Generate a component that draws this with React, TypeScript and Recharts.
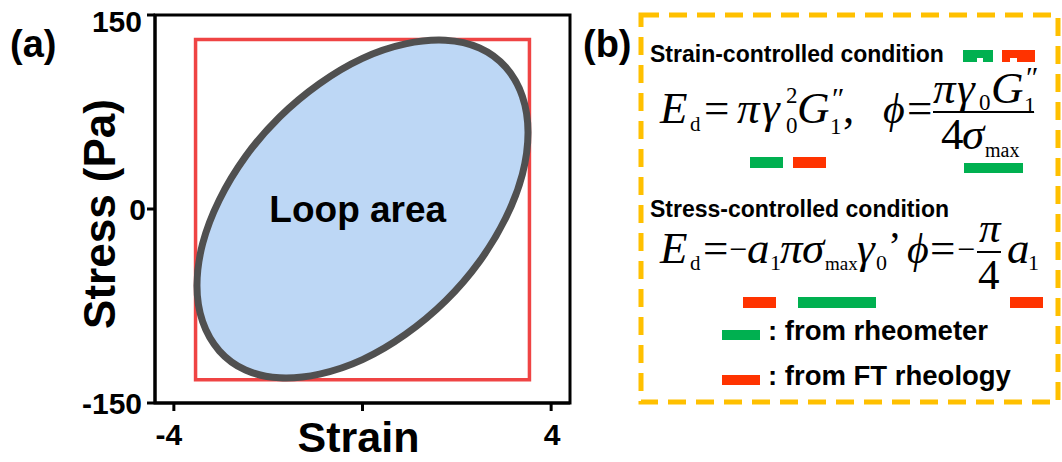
import React from 'react';
import {
  ScatterChart,
  Scatter,
  XAxis,
  YAxis,
  ReferenceArea,
  ReferenceDot,
  Curve,
} from 'recharts';

// axis ticks
const strainTicks = [-4, 0, 4];
const strainTickLabels = ['-4', '', '4'];
const stressTicks = [-150, 0, 150];
const stressTickLabels = ['-150', '0', '150'];

// Lissajous loop (strain, stress in Pa)
const loopStrain = [0, 0.92, 1.78, 2.51, 3.07, 3.43, 3.55, 3.43, 3.07, 2.51, 1.78, 0.92, 0, -0.92, -1.78, -2.51, -3.07, -3.43, -3.55, -3.43, -3.07, -2.51, -1.78, -0.92];
const loopStress = [118, 129, 132, 126, 111, 88, 60, 27, -7, -41, -72, -98, -118, -129, -132, -126, -111, -88, -60, -27, 7, 41, 72, 98];

// bounding rectangle (max strain x max stress)
const rectStrain = [-3.54, 3.54, 3.54, -3.54];
const rectStress = [131, 131, -132, -132];

const loopData = loopStrain.map((x, i) => ({ x, y: loopStress[i] }));
const rectData = rectStrain.map((x, i) => ({ x, y: rectStress[i] }));

const SANS = "'Liberation Sans', Arial, sans-serif";
const SERIF = "'Liberation Serif', 'Times New Roman', serif";
const GREEN = '#00b050';
const RED = '#ff3300';

const XTick = (props: any) => {
  const { x, y, index } = props;
  const label = strainTickLabels[index];
  if (!label) return <g />;
  return (
    <text x={x + (label.startsWith('-') ? -5 : 1)} y={y + 32} textAnchor="middle" fontSize={30} fontWeight={700} fontFamily={SANS} fill="#000">
      {label}
    </text>
  );
};

const YTick = (props: any) => {
  const { x, y, index } = props;
  const label = stressTickLabels[index];
  return (
    <text x={x - 3 + (label === '0' ? 4 : 0)} y={y + 11 + (label === '150' ? 6 : 0)} textAnchor="end" fontSize={30} fontWeight={700} fontFamily={SANS} fill="#000">
      {label}
    </text>
  );
};

// one equation = one <text>, pieces placed as tspans: [text, x, y, size, italic]
type Piece = [string, number, number, number?, boolean?];
const Eq = ({ parts }: { parts: Piece[] }) => (
  <text fontFamily={SERIF} fill="#000">
    {parts.map(([t, x, y, s = 45, it = false], i) => (
      <tspan key={i} x={x} y={y} fontSize={s} fontStyle={it ? 'italic' : 'normal'}>
        {t}
      </tspan>
    ))}
  </text>
);

const eq1Main: Piece[] = [
  ['E', 660, 123, 45, true], ['d', 690, 131, 21], ['=', 704, 123],
  ['π', 737, 123, 45, true], ['γ', 762, 123, 45, true], ['2', 786, 103, 23], ['0', 786, 133, 23],
  ['G', 797, 123, 45, true], ['1', 830, 134, 23], ['″', 832, 108, 30], [',', 843, 123],
  ['ϕ', 883, 123, 42, true], ['=', 907, 123],
];
const eq1Num: Piece[] = [
  ['π', 933, 103, 45, true], ['γ', 957, 103, 45, true], ['0', 979, 110, 23],
  ['G', 991, 103, 45, true], ['1', 1024, 113, 23], ['″', 1026, 87, 30],
];
const eq1Den: Piece[] = [['4', 941, 149], ['σ', 962, 149, 45, true], ['max', 985, 157, 20]];

const eq2Main: Piece[] = [
  ['E', 660, 263, 45, true], ['d', 690, 270, 21], ['=', 703, 263], ['−', 729, 260, 32],
  ['a', 747, 263, 45, true], ['1', 770, 270, 22], ['π', 780, 263, 45, true], ['σ', 802, 263, 45, true],
  ['max', 825, 270, 19], ['γ', 857, 263, 45, true], ['0', 876, 270, 22], ['’', 888, 259, 40],
  ['ϕ', 907, 263, 42, true], ['=', 930, 263], ['−', 957, 260, 32],
];
const eq2Num: Piece[] = [['π', 979, 242, 43, true]];
const eq2Den: Piece[] = [['4', 978, 289, 43]];
const eq2Tail: Piece[] = [['a', 1007, 263, 45, true], ['1', 1028, 270, 22]];

const PanelB = () => (
  <svg width={1062} height={462} style={{ position: 'absolute', left: 0, top: 0, pointerEvents: 'none' }}>
    <text x={10} y={57} fontSize={38} fontWeight={700} fontFamily={SANS}>(a)</text>
    <text x={583} y={57} fontSize={38} fontWeight={700} fontFamily={SANS}>(b)</text>

    <rect x={641} y={15} width={417} height={387} fill="none" stroke="#ffc000" strokeWidth={5} strokeDasharray="18 10" />

    <text x={650} y={62} fontSize={23} fontWeight={700} fontFamily={SANS}>Strain-controlled condition</text>
    <rect x={963} y={50} width={30} height={12} fill={GREEN} />
    <rect x={977} y={58} width={6} height={4} fill="#fff" />
    <rect x={1002} y={50} width={33} height={12} fill={RED} />
    <rect x={1010} y={58} width={7} height={4} fill="#fff" />

    <Eq parts={eq1Main} />
    <Eq parts={eq1Num} />
    <line x1={933} x2={1034} y1={112} y2={112} stroke="#000" strokeWidth={2} />
    <Eq parts={eq1Den} />

    <rect x={750} y={157} width={33} height={11} fill={GREEN} />
    <rect x={793} y={157} width={33} height={11} fill={RED} />
    <rect x={964} y={163} width={59} height={10} fill={GREEN} />

    <text x={650} y={217} fontSize={23} fontWeight={700} fontFamily={SANS}>Stress-controlled condition</text>

    <Eq parts={eq2Main} />
    <Eq parts={eq2Num} />
    <line x1={977} x2={1001} y1={252} y2={252} stroke="#000" strokeWidth={2} />
    <Eq parts={eq2Den} />
    <Eq parts={eq2Tail} />

    <rect x={743} y={297} width={33} height={11} fill={RED} />
    <rect x={798} y={297} width={78} height={11} fill={GREEN} />
    <rect x={1010} y={297} width={33} height={11} fill={RED} />

    <rect x={722} y={330} width={38} height={10} fill={GREEN} />
    <text x={768} y={340} fontSize={27.5} fontWeight={700} fontFamily={SANS}>: from rheometer</text>
    <rect x={722} y={375} width={38} height={10} fill={RED} />
    <text x={768} y={385} fontSize={27.5} fontWeight={700} fontFamily={SANS}>: from FT rheology</text>
  </svg>
);

export default function App() {
  return (
    <div style={{ position: 'absolute', left: 0, top: 0, width: 1062, height: 462, background: '#fff' }}>
      <ScatterChart width={1062} height={462} margin={{ top: 15, right: 492, left: 95, bottom: 19 }}>
        <XAxis
          type="number"
          dataKey="x"
          domain={[-4.4, 4.4]}
          ticks={strainTicks}
          allowDataOverflow
          height={40}
          axisLine={{ stroke: '#000', strokeWidth: 3 }}
          tickLine={{ stroke: '#000', strokeWidth: 3 }}
          tickSize={8}
          tick={<XTick />}
          label={{
            value: 'Strain',
            content: (p: any) => {
              const vb = p.viewBox || { x: 155, y: 403, width: 415 };
              return (
                <text x={vb.x + vb.width / 2 - 4} y={vb.y + 49} textAnchor="middle" fontSize={43} fontWeight={700} fontFamily={SANS} fill="#000">
                  Strain
                </text>
              );
            },
          }}
        />
        <YAxis
          type="number"
          dataKey="y"
          domain={[-150, 150]}
          ticks={stressTicks}
          allowDataOverflow
          width={60}
          axisLine={{ stroke: '#000', strokeWidth: 3 }}
          tickLine={{ stroke: '#000', strokeWidth: 3 }}
          tickSize={8}
          tick={<YTick />}
          label={{
            value: 'Stress (Pa)',
            content: (p: any) => {
              const vb = p.viewBox || { x: 95, y: 15, height: 388 };
              const cx = vb.x + 20;
              const cy = vb.y + vb.height / 2 + 5;
              return (
                <text transform={`translate(${cx},${cy}) rotate(-90)`} textAnchor="middle" fontSize={44} fontWeight={700} fontFamily={SANS} fill="#000">
                  Stress (Pa)
                </text>
              );
            },
          }}
        />
        <ReferenceArea x1={-4.4} x2={4.4} y1={-150} y2={150} fill="none" stroke="#000" strokeWidth={3} />
        <Scatter
          data={rectData}
          isAnimationActive={false}
          shape={() => <g />}
          line={(p: any) => (
            <Curve points={p.points} type="linearClosed" fill="none" stroke="#ef4444" strokeWidth={3.5} />
          )}
        />
        <Scatter
          data={loopData}
          isAnimationActive={false}
          shape={() => <g />}
          line={(p: any) => (
            <Curve points={p.points} type="basisClosed" fill="#bdd7f5" stroke="#505050" strokeWidth={7} />
          )}
        />
        <ReferenceDot
          x={-0.1}
          y={0}
          r={0}
          fill="none"
          stroke="none"
          label={{ value: 'Loop area', position: 'center', fontSize: 37, fontWeight: 700, fill: '#000', fontFamily: SANS }}
        />
      </ScatterChart>
      <PanelB />
    </div>
  );
}
